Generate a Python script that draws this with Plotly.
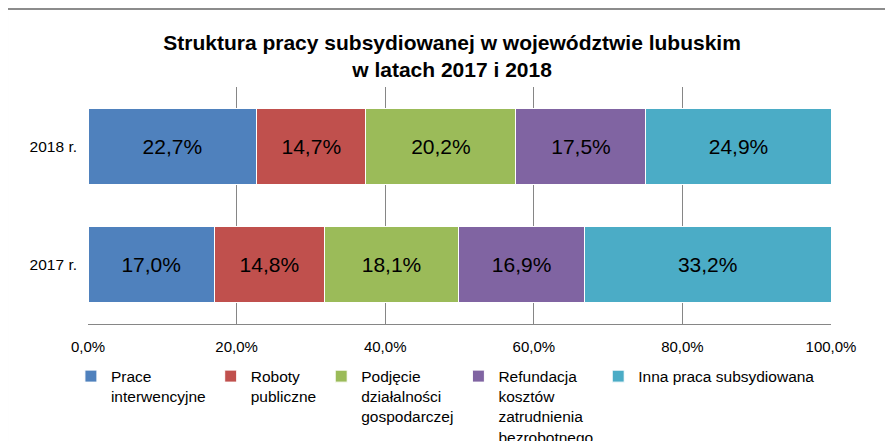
import plotly.graph_objects as go

# Data
years = ["2017 r.", "2018 r."]
series_names = [
    "Prace<br>interwencyjne",
    "Roboty<br>publiczne",
    "Podjęcie<br>działalności<br>gospodarczej",
    "Refundacja<br>kosztów<br>zatrudnienia<br>bezrobotnego",
    "Inna praca subsydiowana",
]
prace_interwencyjne = [17.0, 22.7]
roboty_publiczne = [14.8, 14.7]
dzialalnosc_gosp = [18.1, 20.2]
refundacja_kosztow = [16.9, 17.5]
inna_praca = [33.2, 24.9]
tick_values = [0, 20, 40, 60, 80, 100]
tick_labels = [f"{v:.1f}%".replace(".", ",") for v in tick_values]

colors = ["#4F81BD", "#C0504D", "#9BBB59", "#8064A2", "#4BACC6"]
all_series = [
    prace_interwencyjne,
    roboty_publiczne,
    dzialalnosc_gosp,
    refundacja_kosztow,
    inna_praca,
]

fig = go.Figure()

for name, values, color in zip(series_names, all_series, colors):
    fig.add_trace(
        go.Bar(
            y=years,
            x=values,
            name=name,
            orientation="h",
            marker=dict(color=color, line=dict(color="white", width=1)),
            width=0.64,
            texttemplate="%{x:.1f}%",
            textposition="inside",
            insidetextanchor="middle",
            textfont=dict(size=21, color="black", family="Liberation Sans, Arial"),
            hovertemplate="%{y}: %{x:.1f}%<extra></extra>",
        )
    )

# Outer chart frame (top and left edges visible)
fig.add_shape(
    type="line", xref="paper", yref="paper",
    x0=-0.109, y0=1.329, x1=1.2, y1=1.329,
    line=dict(color="#8C8C8C", width=2),
)
fig.add_shape(
    type="line", xref="paper", yref="paper",
    x0=-0.109, y0=1.329, x1=-0.109, y1=-0.6,
    line=dict(color="#8C8C8C", width=2),
)

fig.update_layout(
    width=893,
    height=441,
    barmode="stack",
    separators=", ",
    plot_bgcolor="white",
    paper_bgcolor="white",
    font=dict(family="Liberation Sans, Arial", size=15, color="black"),
    title=dict(
        text="<b>Struktura pracy subsydiowanej w województwie lubuskim<br>w latach 2017 i 2018</b>",
        x=0.49,
        xref="paper",
        xanchor="center",
        y=0.905,
        yanchor="top",
        font=dict(size=21, color="black"),
    ),
    xaxis=dict(
        range=[0, 100],
        tickvals=tick_values,
        ticktext=tick_labels,
        showgrid=True,
        gridcolor="#868686",
        gridwidth=1,
        showline=True,
        linecolor="#868686",
        linewidth=1,
        zeroline=False,
        ticks="",
        ticklabelstandoff=9,
        tickfont=dict(size=15),
        automargin=False,
    ),
    yaxis=dict(
        showgrid=False,
        ticks="",
        ticklabelstandoff=10,
        tickfont=dict(size=15.5),
        range=[-0.5, 1.5],
        automargin=False,
    ),
    legend=dict(
        orientation="h",
        x=-0.023,
        xanchor="left",
        y=-0.15,
        yanchor="top",
        valign="top",
        traceorder="normal",
        font=dict(size=15.5),
        itemwidth=30,
    ),
    margin=dict(l=80, r=70, t=79, b=125, autoexpand=False),
    showlegend=True,
)

fig.write_html("out.html")
